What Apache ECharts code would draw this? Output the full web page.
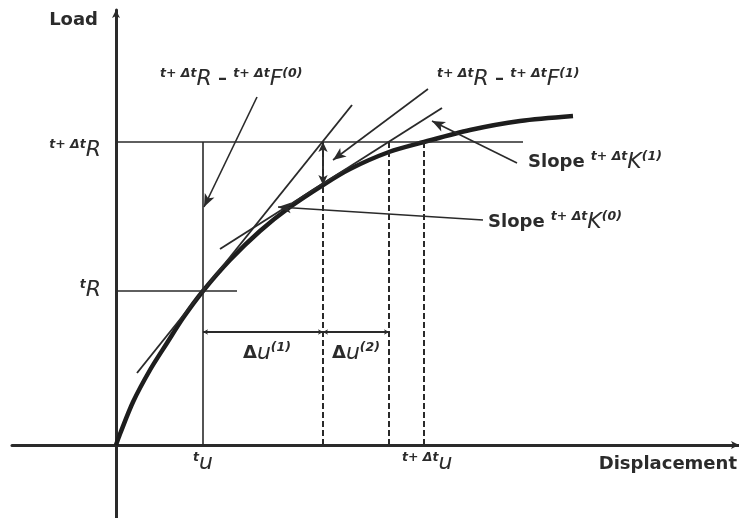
<!DOCTYPE html>
<html>
<head>
<meta charset="utf-8">
<script src="https://cdn.jsdelivr.net/npm/echarts@6/dist/echarts.min.js"></script>
<style>html,body{margin:0;padding:0;background:#fff}#c{width:739px;height:518px}</style>
</head>
<body>
<div id="c"></div>
<script>
// ---- data (arbitrary units) ----
const displacement = [0, 0.04, 0.17, 0.34, 0.51, 0.67, 0.87, 1.14, 1.44, 1.74, 2.07, 2.34, 2.73, 3.08, 3.54, 4.04, 4.57];
const load =         [0, 0.11, 0.43, 0.75, 1.02, 1.27, 1.54, 1.85, 2.14, 2.38, 2.60, 2.76, 2.93, 3.03, 3.15, 3.24, 3.29];

const tU = 0.87, tR = 1.54;          // last converged state
const targetR = 3.03;                // t+Δt R
const iterU = [2.07, 2.73, 3.08];    // u(1), u(2), t+Δt u
const F1 = 2.60;                     // t+Δt F(1)
const deltaULevel = 1.13;            // level of Δu dimension line
const tangentK0 = [[0.21, 0.72], [2.36, 3.40]];
const tangentK1 = [[1.04, 1.96], [3.26, 3.37]];
const pointerF0 = [[1.41, 3.48], [0.88, 2.38]];
const pointerF1 = [[3.12, 3.56], [2.17, 2.85]];
const pointerK1 = [[4.01, 2.82], [3.16, 3.24]];
const pointerK0 = [[3.67, 2.25], [1.62, 2.38]];
const tRLineEnd = 1.21, targetLineEnd = 4.07;

const labelTexts = [
  '{w|Load}',
  '{s|t+ Δt}{i|R}',
  '{s|t}{i|R}',
  '{s|t}{i|u}',
  '{s|t+ Δt}{i|u}',
  '{w|Displacement}',
  '{w|Δ}{i|u}{s|(1)}',
  '{w|Δ}{i|u}{s|(2)}',
  '{s|t+ Δt}{i|R}{w| – }{s|t+ Δt}{i|F}{s|(0)}',
  '{s|t+ Δt}{i|R}{w| – }{s|t+ Δt}{i|F}{s|(1)}',
  '{w|Slope }{s|t+ Δt}{i|K}{s|(1)}',
  '{w|Slope }{s|t+ Δt}{i|K}{s|(0)}'
];
const labelPos = [
  [-0.18, 4.25], [-0.15, 2.95], [-0.15, 1.55], [0.77, -0.18], [2.86, -0.18], [6.21, -0.19],
  [1.27, 0.92], [2.16, 0.92], [0.44, 3.66], [3.21, 3.66], [4.12, 2.83], [3.72, 2.23]
];
const labelAlign = ['right', 'right', 'right', 'left', 'left', 'right', 'left', 'left', 'left', 'left', 'left', 'left'];

// ---- styling ----
const ink = '#2a2a2a';
const txt = '#2b2b2b';
const FONT = 'DejaVu Sans';
const rich = {
  w: { fontFamily: FONT, fontSize: 18, fontWeight: 'bold', color: txt, lineHeight: 24 },
  i: { fontFamily: FONT, fontSize: 22, fontStyle: 'italic', color: txt, lineHeight: 24 },
  s: { fontFamily: FONT, fontSize: 12.5, fontStyle: 'italic', fontWeight: 'bold', color: txt, lineHeight: 13, verticalAlign: 'top' }
};

function seg(a, b, style, s0, s1, size) {
  return [
    { coord: a, symbol: s0 || 'none', symbolSize: size || [8, 12], lineStyle: style },
    { coord: b, symbol: s1 || 'none', symbolSize: size || [8, 12] }
  ];
}
const thin = { color: ink, width: 1.6, type: 'solid' };
const mid = { color: ink, width: 1.9, type: 'solid' };
const dash = { color: ink, width: 2, type: [6, 3] };

const lines = [
  seg([0, targetR], [targetLineEnd, targetR], thin),
  seg([0, tR], [tRLineEnd, tR], thin),
  seg([tU, 0], [tU, targetR], thin),
  seg([iterU[0], 0], [iterU[0], targetR], dash),
  seg([iterU[1], 0], [iterU[1], targetR], dash),
  seg([iterU[2], 0], [iterU[2], targetR], dash),
  seg(tangentK0[0], tangentK0[1], mid),
  seg(tangentK1[0], tangentK1[1], mid),
  seg([tU, deltaULevel], [iterU[0], deltaULevel], mid, 'arrow', 'arrow', [4, 5]),
  seg([iterU[0], deltaULevel], [iterU[1], deltaULevel], mid, 'arrow', 'arrow', [4, 5]),
  seg([iterU[0], F1], [iterU[0], targetR], mid, 'arrow', 'arrow', [7, 10]),
  seg(pointerF0[0], pointerF0[1], thin, 'none', 'arrow', [8, 13]),
  seg(pointerF1[0], pointerF1[1], thin, 'none', 'arrow', [8, 13]),
  seg(pointerK1[0], pointerK1[1], thin, 'none', 'arrow', [8, 13]),
  seg(pointerK0[0], pointerK0[1], thin, 'none', 'arrow', [8, 13])
];

const chart = echarts.init(document.getElementById('c'), null, { renderer: 'canvas' });
chart.setOption({
  animation: false,
  backgroundColor: '#ffffff',
  grid: { left: 12, right: 0, top: 10, bottom: 0, containLabel: false },
  xAxis: {
    type: 'value', min: -1.04, max: 6.23,
    axisLine: { show: true, onZero: true, lineStyle: { color: ink, width: 3 }, symbol: ['none', 'arrow'], symbolSize: [6, 8] },
    axisTick: { show: false }, axisLabel: { show: false }, splitLine: { show: false }
  },
  yAxis: {
    type: 'value', min: -0.73, max: 4.35,
    axisLine: { show: true, onZero: true, lineStyle: { color: ink, width: 3 }, symbol: ['none', 'arrow'], symbolSize: [6, 8] },
    axisTick: { show: false }, axisLabel: { show: false }, splitLine: { show: false }
  },
  series: [
    {
      type: 'line', name: 'curve', silent: true,
      data: displacement.map((u, k) => [u, load[k]]),
      smooth: 0.3, symbol: 'none',
      lineStyle: { color: '#1d1d1d', width: 4.5 },
      markLine: { silent: true, animation: false, label: { show: false }, emphasis: { disabled: true }, data: lines },
      z: 3
    },
    {
      type: 'scatter', silent: true, symbolSize: 0,
      itemStyle: { opacity: 1 },
      data: labelPos.map((p, k) => ({
        value: p,
        label: { show: true, position: 'inside', align: labelAlign[k], verticalAlign: 'middle', color: txt, opacity: 1, formatter: labelTexts[k], rich: rich }
      })),
      z: 5
    }
  ]
});
</script>
</body>
</html>
